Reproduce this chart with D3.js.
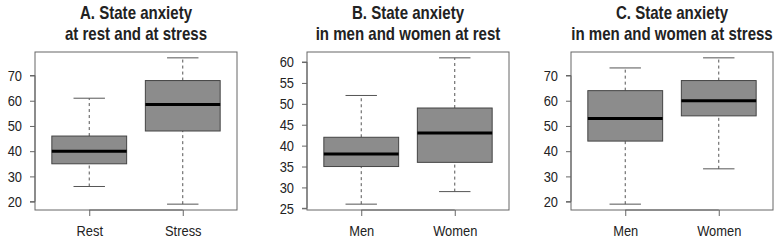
<!DOCTYPE html>
<html>
<head>
<meta charset="utf-8">
<script src="https://d3js.org/d3.v7.min.js"></script>
<style>
  body { margin: 0; background: white; }
  svg text { font-family: "Liberation Sans", Arial, sans-serif; fill: #222; }
</style>
</head>
<body>
<svg id="chart" width="782" height="241"></svg>
<script>
// chart data
var titles = [
  ["A. State anxiety", "at rest and at stress"],
  ["B. State anxiety", "in men and women at rest"],
  ["C. State anxiety", "in men and women at stress"]
];
var categories = [["Rest", "Stress"], ["Men", "Women"], ["Men", "Women"]];
var lowWhisker  = [[26, 19], [26, 29], [19, 33]];
var q1          = [[35, 48], [35, 36], [44, 54]];
var medians     = [[40, 58.5], [38, 43], [53, 60]];
var q3          = [[46, 68], [42, 49], [64, 68]];
var highWhisker = [[61, 77], [52, 61], [73, 77]];
var yTicks = [
  [20, 30, 40, 50, 60, 70],
  [25, 30, 35, 40, 45, 50, 55, 60],
  [20, 30, 40, 50, 60, 70]
];

var svg = d3.select("#chart");
var lefts = [35, 307, 571];
var pw = 202, plotTop = 52, plotBottom = 210;
var sx = 0.86; // condensed look of the original text

function drawPanel(p) {
  var g = svg.append("g").attr("transform", "translate(" + lefts[p] + ",0)");
  var lo = d3.min(lowWhisker[p]), hi = d3.max(highWhisker[p]);
  var pad = (hi - lo) * 0.04;
  var y = d3.scaleLinear().domain([lo - pad, hi + pad]).range([plotBottom, plotTop]);
  var x = d3.scaleLinear().domain([0.42, 2.58]).range([0, pw]);
  var bw = (x(1.4) - x(0.6));
  var cap = bw * 0.42;

  var boxes = g.selectAll(".box").data(categories[p]).enter().append("g");
  // whiskers
  boxes.append("line")
    .attr("x1", function(d, i) { return x(i + 1); })
    .attr("x2", function(d, i) { return x(i + 1); })
    .attr("y1", function(d, i) { return y(lowWhisker[p][i]); })
    .attr("y2", function(d, i) { return y(q1[p][i]); })
    .attr("stroke", "#555").attr("stroke-dasharray", "3,3");
  boxes.append("line")
    .attr("x1", function(d, i) { return x(i + 1); })
    .attr("x2", function(d, i) { return x(i + 1); })
    .attr("y1", function(d, i) { return y(q3[p][i]); })
    .attr("y2", function(d, i) { return y(highWhisker[p][i]); })
    .attr("stroke", "#555").attr("stroke-dasharray", "3,3");
  // caps
  boxes.append("line")
    .attr("x1", function(d, i) { return x(i + 1) - cap / 2; })
    .attr("x2", function(d, i) { return x(i + 1) + cap / 2; })
    .attr("y1", function(d, i) { return y(lowWhisker[p][i]); })
    .attr("y2", function(d, i) { return y(lowWhisker[p][i]); })
    .attr("stroke", "#555");
  boxes.append("line")
    .attr("x1", function(d, i) { return x(i + 1) - cap / 2; })
    .attr("x2", function(d, i) { return x(i + 1) + cap / 2; })
    .attr("y1", function(d, i) { return y(highWhisker[p][i]); })
    .attr("y2", function(d, i) { return y(highWhisker[p][i]); })
    .attr("stroke", "#555");
  // box
  boxes.append("rect")
    .attr("x", function(d, i) { return x(i + 1) - bw / 2; })
    .attr("width", bw)
    .attr("y", function(d, i) { return y(q3[p][i]); })
    .attr("height", function(d, i) { return y(q1[p][i]) - y(q3[p][i]); })
    .attr("fill", "#8c8c8c").attr("stroke", "#444");
  // median
  boxes.append("line")
    .attr("x1", function(d, i) { return x(i + 1) - bw / 2; })
    .attr("x2", function(d, i) { return x(i + 1) + bw / 2; })
    .attr("y1", function(d, i) { return y(medians[p][i]); })
    .attr("y2", function(d, i) { return y(medians[p][i]); })
    .attr("stroke", "#000").attr("stroke-width", 3);

  // frame
  g.append("rect").attr("x", 0).attr("y", plotTop).attr("width", pw).attr("height", plotBottom - plotTop)
    .attr("fill", "none").attr("stroke", "#666");

  // y axis
  var ya = g.append("g").call(d3.axisLeft(y).tickValues(yTicks[p]).tickSize(5).tickPadding(8));
  ya.select(".domain").attr("stroke", "#666")
    .attr("d", "M-5," + y(yTicks[p][0]) + "H0V" + y(yTicks[p][yTicks[p].length - 1]) + "H-5");
  ya.selectAll(".tick line").attr("stroke", "#666");
  ya.selectAll(".tick text").style("font-size", "15px").attr("fill", "#222")
    .attr("transform", "scale(" + sx + ",1)")
    .attr("x", -13 / sx);

  // x axis
  var xa = g.append("g").attr("transform", "translate(0," + plotBottom + ")")
    .call(d3.axisBottom(x).tickValues([1, 2]).tickSize(6).tickPadding(9)
      .tickFormat(function(d) { return categories[p][d - 1]; }));
  xa.select(".domain").attr("stroke", "#666").attr("d", "M" + x(1) + ",0H" + x(2));
  xa.selectAll(".tick line").attr("stroke", "#666");
  xa.selectAll(".tick text").style("font-size", "15px").attr("fill", "#222")
    .attr("transform", "scale(" + sx + ",1)");

  // title
  titles[p].forEach(function(t, k) {
    g.append("text")
      .attr("transform", "translate(" + (pw / 2) + "," + (19 + k * 21) + ") scale(" + sx + ",1)")
      .attr("text-anchor", "middle")
      .style("font-size", "17.5px").attr("font-weight", "bold")
      .text(t);
  });
}

for (var p = 0; p < 3; p++) drawPanel(p);
</script>
</body>
</html>
